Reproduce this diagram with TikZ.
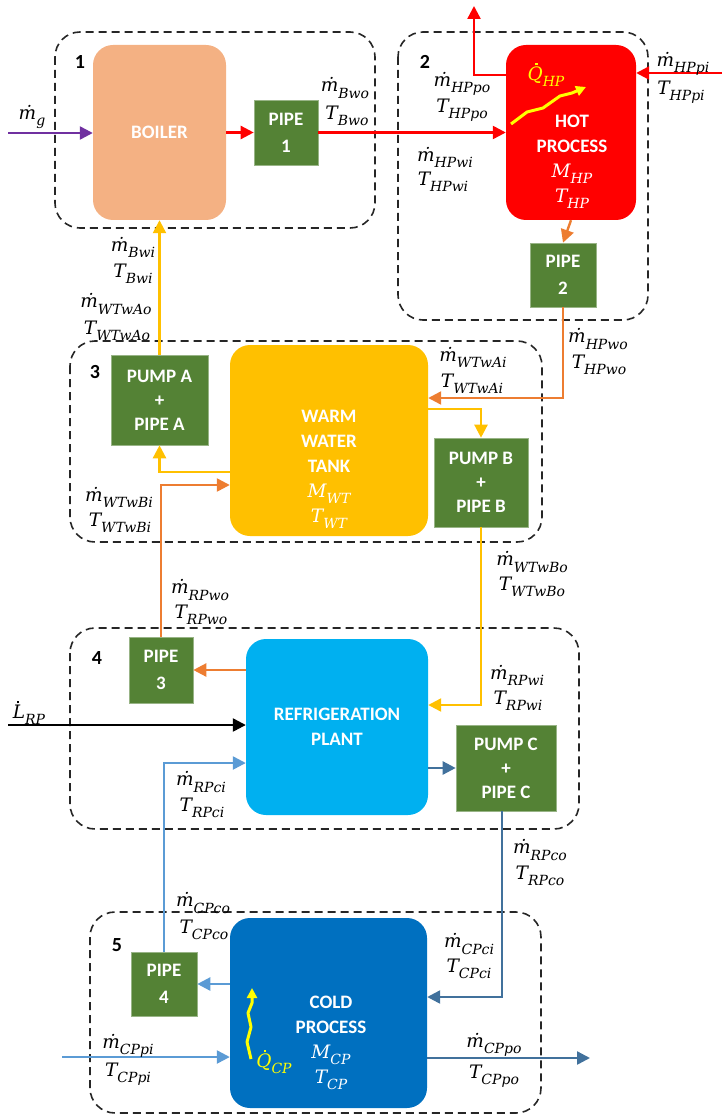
\documentclass[tikz,border=0pt]{standalone}
\usepackage{fontspec}
\setsansfont{Carlito}
\newfontfamily\labf{DejaVu Serif}
\newcommand\flab[2]{{\labf\itshape #1\raisebox{-0.33em}{\fontsize{14}{14}\selectfont #2}}}
\newcommand\dotcap[2]{\rlap{\hspace{#2}\raisebox{0.84em}{\rule{2.3pt}{2.3pt}}}#1}
\usetikzlibrary{arrows.meta}
\definecolor{boilerc}{HTML}{F4B183}
\definecolor{pipeg}{HTML}{548235}
\definecolor{tankc}{HTML}{FFC000}
\definecolor{rpc}{HTML}{00B0F0}
\definecolor{cpc}{HTML}{0070C0}
\definecolor{orangel}{HTML}{ED7D31}
\definecolor{purplel}{HTML}{7030A0}
\definecolor{lbl}{HTML}{5B9BD5}
\definecolor{sbl}{HTML}{41719C}
\definecolor{yell}{HTML}{FFFF00}
\begin{document}
\begin{tikzpicture}[x=1pt,y=-1pt,
  box/.style={draw=none, rounded corners=20pt, text=white, font=\sffamily\bfseries\fontsize{19}{25}\selectfont, align=center, inner sep=0pt},
  pipebox/.style={fill=pipeg, draw=pipeg!60!white, line width=0.6pt, text=white, font=\sffamily\bfseries\fontsize{19}{27}\selectfont, align=center, inner sep=0pt},
  btext/.style={text=white, font=\sffamily\bfseries\fontsize{19}{25}\selectfont, align=center, inner sep=0pt},
  group/.style={draw=black!85, dash pattern=on 8pt off 5pt, line width=1.6pt, rounded corners=25pt},
  flow/.style={line width=2.4pt, -{Triangle[length=13pt,width=13pt]}},
  lab/.style={font=\fontsize{18.5}{22}\selectfont, inner sep=0pt},
  num/.style={font=\sffamily\bfseries\fontsize{20}{24}\selectfont, inner sep=0pt},
  wavy/.style={yell, line width=3pt, line join=round, -{Triangle[length=10pt,width=10pt]}}
]
\useasboundingbox (0,0) rectangle (722,1115);

% groups
\draw[group] (55,32) rectangle (375,228);
\draw[group] (398,32) rectangle (648,320);
\draw[group] (70,341) rectangle (542,542);
\draw[group] (70,628) rectangle (579,829);
\draw[group] (90,912) rectangle (541,1113);

\node[num] (n1) at (80,62) {1};
\node[num] (n2) at (425,62) {2};
\node[num] (n3) at (95,372) {3};
\node[num] (n4) at (97,658) {4};
\node[num] (n5) at (117,945) {5};

% blocks
\node[box, fill=boilerc, minimum width=133pt, minimum height=175pt] (boiler) at (159.5,132.5) {BOILER};
\node[pipebox, minimum width=64pt, minimum height=65pt] (pipe1) at (286,132.5) {PIPE\\1};
\node[box, fill=red, minimum width=130pt, minimum height=175pt] (hp) at (571,132.5) {};
\node[btext] (hptxt) at (572,162) {HOT\\PROCESS\\{\mdseries\fontsize{18.5}{22}\selectfont\flab{M}{HP}}\\{\mdseries\fontsize{18.5}{22}\selectfont\flab{T}{HP}}};
\node[pipebox, minimum width=66pt, minimum height=64pt] (pipe2) at (563,275) {PIPE\\2};
\node[pipebox, minimum width=97pt, minimum height=90pt, font=\sffamily\bfseries\fontsize{19}{24}\selectfont] (pumpA) at (159.5,400) {PUMP A\\+\\PIPE A};
\node[box, fill=tankc, minimum width=198pt, minimum height=191pt] (tank) at (329,440.5) {};
\node[btext] (tanktxt) at (329,469) {WARM\\WATER\\TANK\\{\mdseries\fontsize{18.5}{22}\selectfont\flab{M}{WT}}\\{\mdseries\fontsize{18.5}{22}\selectfont\flab{T}{WT}}};
\node[pipebox, minimum width=94pt, minimum height=89pt, font=\sffamily\bfseries\fontsize{19}{24}\selectfont] (pumpB) at (481,482.5) {PUMP B\\+\\PIPE B};
\node[pipebox, minimum width=64pt, minimum height=66pt] (pipe3) at (161,670) {PIPE\\3};
\node[box, fill=rpc, minimum width=182pt, minimum height=176pt] (rp) at (337,727) {REFRIGERATION\\PLANT};
\node[pipebox, minimum width=100pt, minimum height=86pt, font=\sffamily\bfseries\fontsize{19}{24}\selectfont] (pumpC) at (506,768) {PUMP C\\+\\PIPE C};
\node[pipebox, minimum width=66pt, minimum height=64pt] (pipe4) at (164,984) {PIPE\\4};
\node[box, fill=cpc, minimum width=197pt, minimum height=190pt] (cp) at (328.5,1013) {};
\node[btext] (cptxt) at (331,1043) {COLD\\PROCESS\\{\mdseries\fontsize{18.5}{22}\selectfont\flab{M}{CP}}\\{\mdseries\fontsize{18.5}{22}\selectfont\flab{T}{CP}}};

% coordinates
\coordinate (gin) at (8,133);
\coordinate (hpoB) at (474,75);
\coordinate (hpoT) at (474,6);
\coordinate (hpin) at (722,73);
\coordinate (c2) at (563,398);
\coordinate (c3) at (481,409);
\coordinate (c4) at (159.5,472);
\coordinate (c5) at (161,485);
\coordinate (c6) at (481,705);
\coordinate (lin) at (8,725);
\coordinate (c7) at (164,763);
\coordinate (c8) at (502,997);
\coordinate (cpin) at (62,1057);
\coordinate (cpout) at (590,1058);

% connectors
\draw[flow, purplel] (gin) -- (boiler.west |- gin);
\draw[flow, red] (boiler.east |- pipe1.west) -- (pipe1.west);
\draw[flow, red] (pipe1.east) -- (hp.west |- pipe1.east);
\draw[flow, red] (hp.west |- hpoB) -- (hpoB) -- (hpoT);
\draw[flow, red] (hpin) -- (hp.east |- hpin);
\draw[flow, orangel] (hp.south) -- (pipe2.north);
\draw[flow, orangel] (pipe2.south) -- (c2) -- (tank.east |- c2);
\draw[flow, tankc] (tank.east |- c3) -- (c3) -- (pumpB.north);
\draw[flow, tankc] (tank.west |- c4) -- (c4) -- (pumpA.south);
\draw[flow, tankc] (pumpA.north) -- (boiler.south);
\draw[flow, orangel] (pipe3.north) -- (c5) -- (tank.west |- c5);
\draw[flow, tankc] (pumpB.south) -- (c6) -- (rp.east |- c6);
\draw[flow, orangel] (rp.west |- pipe3.east) -- (pipe3.east);
\draw[flow, black] (lin) -- (rp.west |- lin);
\draw[flow, sbl] (rp.east |- pumpC.west) -- (pumpC.west);
\draw[flow, lbl] (pipe4.north) -- (c7) -- (rp.west |- c7);
\draw[flow, sbl] (pumpC.south -| c8) -- (c8) -- (cp.east |- c8);
\draw[flow, lbl] (cp.west |- pipe4.east) -- (pipe4.east);
\draw[flow, lbl] (cpin) -- (cp.west |- cpin);
\draw[flow, sbl] (cp.east |- cpout) -- (cpout);

% heat arrows
\draw[wavy] (511,124) -- (527,112) -- (543,108) -- (560,96) -- (572,93) -- (586,87);
\draw[wavy] (251,1059) -- (247,1042) -- (251,1027) -- (248,1013) -- (252,1003) -- (252,988);
\node[lab, text=yell] (qhp) at (546,75) {\flab{\dotcap{Q}{0.42em}}{HP}};
\node[lab, text=yell] (qcp) at (274,1062) {\flab{\dotcap{Q}{0.42em}}{CP}};

% labels
\node[lab] (lg) at (32,117) {\flab{ṁ}{g}};
\node[lab] (l1) at (345,88) {\flab{ṁ}{Bwo}};
\node[lab] (l2) at (347,116) {\flab{T}{Bwo}};
\node[lab] (l3) at (462,84) {\flab{ṁ}{HPpo}};
\node[lab] (l4) at (462,110) {\flab{T}{HPpo}};
\node[lab] (l5) at (445,157) {\flab{ṁ}{HPwi}};
\node[lab] (l6) at (443,182) {\flab{T}{HPwi}};
\node[lab] (l7) at (683,64) {\flab{ṁ}{HPpi}};
\node[lab] (l8) at (681,92) {\flab{T}{HPpi}};
\node[lab] (l9) at (133,247) {\flab{ṁ}{Bwi}};
\node[lab] (l10) at (133,274) {\flab{T}{Bwi}};
\node[lab] (l11) at (116,304) {\flab{ṁ}{WTwAo}};
\node[lab] (l12) at (117,331) {\flab{T}{WTwAo}};
\node[lab] (l13) at (598,339) {\flab{ṁ}{HPwo}};
\node[lab] (l14) at (599,365) {\flab{T}{HPwo}};
\node[lab] (l15) at (473,357) {\flab{ṁ}{WTwAi}};
\node[lab] (l16) at (472,384) {\flab{T}{WTwAi}};
\node[lab] (l17) at (119,497) {\flab{ṁ}{WTwBi}};
\node[lab] (l18) at (120,523) {\flab{T}{WTwBi}};
\node[lab] (l19) at (532,562) {\flab{ṁ}{WTwBo}};
\node[lab] (l20) at (532,587) {\flab{T}{WTwBo}};
\node[lab] (l21) at (200,590) {\flab{ṁ}{RPwo}};
\node[lab] (l22) at (201,615) {\flab{T}{RPwo}};
\node[lab] (l23) at (29,713) {\flab{\dotcap{L}{0.22em}}{RP}};
\node[lab] (l24) at (517,675) {\flab{ṁ}{RPwi}};
\node[lab] (l25) at (518,701) {\flab{T}{RPwi}};
\node[lab] (l26) at (201,782) {\flab{ṁ}{RPci}};
\node[lab] (l27) at (202,808) {\flab{T}{RPci}};
\node[lab] (l28) at (540,850) {\flab{ṁ}{RPco}};
\node[lab] (l29) at (540,876) {\flab{T}{RPco}};
\node[lab] (l30) at (203,903) {\flab{ṁ}{CPco}};
\node[lab] (l31) at (204,930) {\flab{T}{CPco}};
\node[lab] (l32) at (469,944) {\flab{ṁ}{CPci}};
\node[lab] (l33) at (469,969) {\flab{T}{CPci}};
\node[lab] (l34) at (128,1046) {\flab{ṁ}{CPpi}};
\node[lab] (l35) at (128,1074) {\flab{T}{CPpi}};
\node[lab] (l36) at (494,1045) {\flab{ṁ}{CPpo}};
\node[lab] (l37) at (494,1076) {\flab{T}{CPpo}};
\end{tikzpicture}
\end{document}
